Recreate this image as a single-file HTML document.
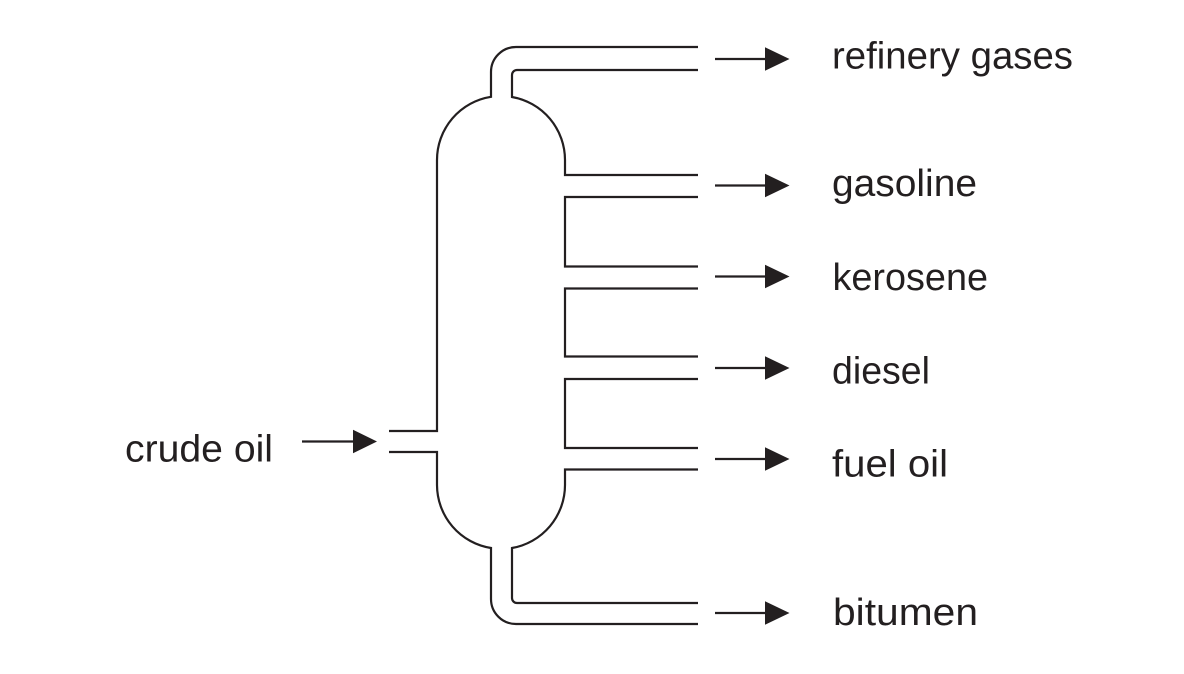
<!DOCTYPE html>
<html>
<head>
<meta charset="utf-8">
<style>
  html, body { margin: 0; padding: 0; background: #ffffff; }
  body { width: 1184px; height: 674px; overflow: hidden; }
  svg { display: block; }
  text { font-family: "Liberation Sans", "DejaVu Sans", sans-serif; font-size: 38px; fill: #231f20; }
</style>
</head>
<body>
<svg width="1184" height="674" viewBox="0 0 1184 674" xmlns="http://www.w3.org/2000/svg">
  <g fill="none" stroke="#231f20" stroke-width="2.2" stroke-linejoin="miter">
    <!-- outer left contour: crude inlet top -> column -> top neck -> refinery gases outer -->
    <path d="M389,431 L437,431 L437,160 A64,64 0 0 1 491,96.8 L491,72 A25,25 0 0 1 516,47 L698,47"/>
    <!-- refinery gases inner -> neck -> dome right -> gasoline top -->
    <path d="M698,70 L517,70 A5,5 0 0 0 512,75 L512,97 A64,64 0 0 1 565,160 L565,175 L698,175"/>
    <!-- brackets -->
    <path d="M698,197 L565,197 L565,266.5 L698,266.5"/>
    <path d="M698,288.5 L565,288.5 L565,356.5 L698,356.5"/>
    <path d="M698,379 L565,379 L565,448 L698,448"/>
    <!-- fuel oil bottom -> dome bottom right -> bitumen inner -->
    <path d="M698,469.5 L565,469.5 L565,485 A64,64 0 0 1 512,548 L512,598 A5,5 0 0 0 517,603 L698,603"/>
    <!-- crude inlet bottom -> dome bottom left -> bitumen outer -->
    <path d="M389,452 L437,452 L437,485 A64,64 0 0 0 491,548 L491,599 A25,25 0 0 0 516,624 L698,624"/>
  </g>

  <!-- arrows -->
  <g stroke="#231f20" stroke-width="2.2">
    <line x1="715" y1="59" x2="767" y2="59"/>
    <line x1="715" y1="185.5" x2="767" y2="185.5"/>
    <line x1="715" y1="276.5" x2="767" y2="276.5"/>
    <line x1="715" y1="368" x2="767" y2="368"/>
    <line x1="715" y1="459" x2="767" y2="459"/>
    <line x1="715" y1="613" x2="767" y2="613"/>
    <line x1="302" y1="441.5" x2="355" y2="441.5"/>
  </g>
  <g fill="#231f20">
    <polygon points="765,47.3 789.5,59 765,70.7"/>
    <polygon points="765,173.8 789.5,185.5 765,197.2"/>
    <polygon points="765,264.8 789.5,276.5 765,288.2"/>
    <polygon points="765,356.3 789.5,368 765,379.7"/>
    <polygon points="765,447.3 789.5,459 765,470.7"/>
    <polygon points="765,601.3 789.5,613 765,624.7"/>
    <polygon points="353,429.8 377,441.5 353,453.2"/>
  </g>

  <!-- labels -->
  <text x="832" y="68.5" textLength="241" lengthAdjust="spacingAndGlyphs">refinery gases</text>
  <text x="832" y="196" textLength="145" lengthAdjust="spacingAndGlyphs">gasoline</text>
  <text x="832.5" y="290" textLength="155.5" lengthAdjust="spacingAndGlyphs">kerosene</text>
  <text x="832" y="383.5" textLength="98" lengthAdjust="spacingAndGlyphs">diesel</text>
  <text x="832" y="476.5" textLength="116" lengthAdjust="spacingAndGlyphs">fuel oil</text>
  <text x="833" y="625" textLength="145" lengthAdjust="spacingAndGlyphs">bitumen</text>
  <text x="125" y="461.5" textLength="148" lengthAdjust="spacingAndGlyphs">crude oil</text>
</svg>
</body>
</html>
